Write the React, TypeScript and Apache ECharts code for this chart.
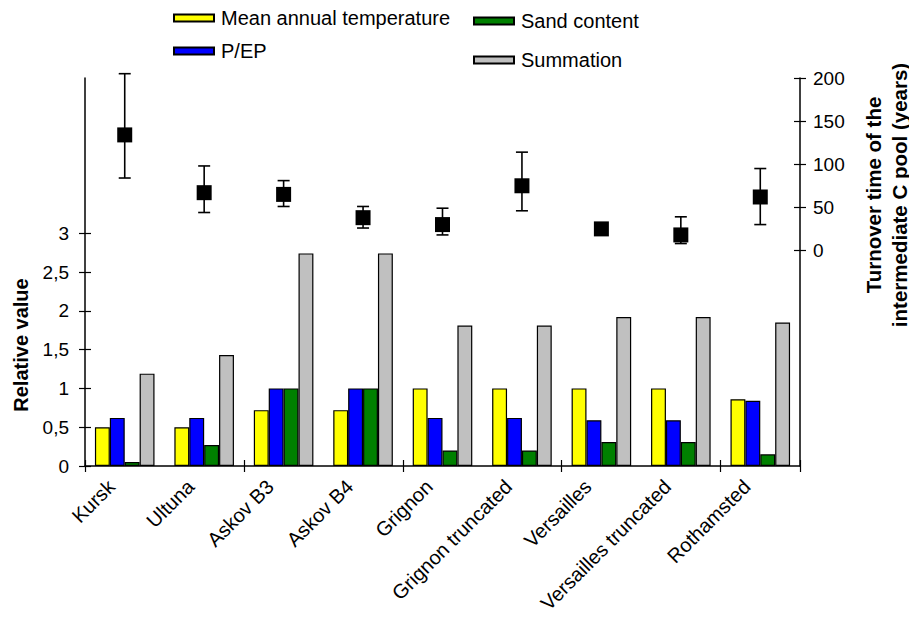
import React, { useEffect, useRef } from "react";
import * as echarts from "echarts";

const categories = [
  "Kursk",
  "Ultuna",
  "Askov B3",
  "Askov B4",
  "Grignon",
  "Grignon truncated",
  "Versailles",
  "Versailles truncated",
  "Rothamsted",
];
const meanTemp = [0.5, 0.5, 0.72, 0.72, 1, 1, 1, 1, 0.86];
const pep = [0.62, 0.62, 1, 1, 0.62, 0.62, 0.59, 0.59, 0.84];
const sand = [0.05, 0.27, 1, 1, 0.2, 0.2, 0.31, 0.31, 0.15];
const summation = [1.19, 1.43, 2.74, 2.74, 1.81, 1.81, 1.92, 1.92, 1.85];
const turnover = [134, 67, 65, 38, 30, 75, 25, 18, 62];
const errLow: (number | null)[] = [84, 44, 51, 26, 18, 46, null, 8, 30];
const errHigh: (number | null)[] = [205, 98, 81, 51, 49, 114, null, 39, 95];

const FONT = "'Liberation Sans', Arial, sans-serif";

export default function App() {
  const ref = useRef<HTMLDivElement>(null);
  useEffect(() => {
    if (!ref.current) return;
    const chart = echarts.init(ref.current, null, { renderer: "svg" });
    const gl = 85, gr = 109, gt = 78, gb = 151;
    const H = 617;
    const plotH = H - gt - gb;
    const leftTop = H - gb - (plotH * 3) / 5;
    const rightZeroY = gt + (plotH * 200) / 450;
    const rightBottom = H - rightZeroY;
    const barStyle = (c: string) => ({ color: c, borderColor: "#000", borderWidth: 1.2 });
    const errData = categories
      .map((_, i) => [i, errLow[i], errHigh[i]])
      .filter((d) => d[1] != null && d[2] != null);
    const axisCol = "#000";
    const tickStyle = { color: axisCol, width: 1.2 };
    const lbl = { color: "#000", fontSize: 19, fontFamily: FONT };
    const gridBase = { left: gl, right: gr, containLabel: false, outerBoundsMode: "none" };
    const hiddenX = (g: number) => ({
      type: "category",
      gridIndex: g,
      data: categories,
      show: false,
      axisLine: { show: false, onZero: false },
    });
    const legendCommon = {
      orient: "vertical",
      padding: 0,
      itemWidth: 40,
      itemHeight: 7,
      icon: "rect",
      textStyle: { fontSize: 20, color: "#000", lineHeight: 20, padding: [0, 0, 0, 2], fontFamily: FONT },
    };
    chart.setOption({
      animation: false,
      textStyle: { fontFamily: FONT },
      grid: [
        { ...gridBase, top: gt, bottom: gb },
        { ...gridBase, top: leftTop, bottom: gb },
        { ...gridBase, top: gt, bottom: rightBottom },
        { ...gridBase, top: gt, bottom: gb },
      ],
      legend: [
        { ...legendCommon, data: ["Mean annual temperature", "P/EP"], left: 173, top: 8, itemGap: 13 },
        { ...legendCommon, data: ["Sand content", "Summation"], left: 473, top: 11, itemGap: 19 },
      ],
      xAxis: [
        {
          type: "category",
          gridIndex: 0,
          data: categories,
          boundaryGap: true,
          axisLine: { show: true, onZero: false, lineStyle: { color: axisCol, width: 1.5 } },
          axisTick: { show: false },
          axisLabel: {
            ...lbl,
            fontSize: 20,
            rotate: 45,
            interval: 0,
            margin: 18,
            verticalAlign: "bottom",
            padding: [0, 9, 0, 0],
          },
          splitLine: { show: false },
        },
        hiddenX(1),
        hiddenX(2),
        {
          type: "category",
          gridIndex: 3,
          data: categories,
          boundaryGap: true,
          position: "bottom",
          offset: -6,
          axisLine: { show: false, onZero: false },
          axisTick: { show: true, length: 12, lineStyle: tickStyle },
          axisLabel: { show: false },
          splitLine: { show: false },
        },
      ],
      yAxis: [
        {
          type: "value",
          gridIndex: 0,
          position: "left",
          min: 0,
          max: 5,
          axisLine: { show: true, onZero: false, lineStyle: { color: axisCol, width: 1.5 } },
          axisTick: { show: false },
          axisLabel: { show: false },
          splitLine: { show: false },
        },
        {
          type: "value",
          gridIndex: 0,
          position: "right",
          min: -250,
          max: 200,
          axisLine: { show: true, onZero: false, lineStyle: { color: axisCol, width: 1.5 } },
          axisTick: { show: false },
          axisLabel: { show: false },
          splitLine: { show: false },
        },
        {
          type: "value",
          gridIndex: 1,
          position: "left",
          offset: -6,
          min: 0,
          max: 3,
          interval: 0.5,
          axisLine: { show: false, onZero: false },
          axisTick: { show: true, length: 12, lineStyle: tickStyle },
          axisLabel: {
            ...lbl,
            margin: 22,
            formatter: (v: number) => String(v).replace(".", ","),
          },
          splitLine: { show: false },
        },
        {
          type: "value",
          gridIndex: 2,
          position: "right",
          offset: -6,
          min: 0,
          max: 200,
          interval: 50,
          axisLine: { show: false, onZero: false },
          axisTick: { show: true, length: 12, lineStyle: tickStyle },
          axisLabel: { ...lbl, margin: 19 },
          splitLine: { show: false },
        },
        { type: "value", gridIndex: 3, min: 0, max: 1, show: false, axisLine: { show: false, onZero: false } },
      ],
      series: [
        { name: "Mean annual temperature", type: "bar", xAxisIndex: 0, yAxisIndex: 0, data: meanTemp, itemStyle: barStyle("#FFFF00"), barGap: "0%", barCategoryGap: "25%" },
        { name: "P/EP", type: "bar", xAxisIndex: 0, yAxisIndex: 0, data: pep, itemStyle: barStyle("#0000FF"), barGap: "0%", barCategoryGap: "25%" },
        { name: "Sand content", type: "bar", xAxisIndex: 0, yAxisIndex: 0, data: sand, itemStyle: barStyle("#008000"), barGap: "0%", barCategoryGap: "25%" },
        { name: "Summation", type: "bar", xAxisIndex: 0, yAxisIndex: 0, data: summation, itemStyle: barStyle("#C0C0C0"), barGap: "0%", barCategoryGap: "25%" },
        {
          name: "Turnover error",
          type: "custom",
          xAxisIndex: 0,
          yAxisIndex: 1,
          z: 3,
          data: errData,
          renderItem: (params: any, api: any) => {
            const i = api.value(0);
            const top = api.coord([i, api.value(2)]);
            const bot = api.coord([i, api.value(1)]);
            const w = 6;
            const st = { stroke: "#000", lineWidth: 1.6 };
            return {
              type: "group",
              children: [
                { type: "line", shape: { x1: top[0], y1: top[1], x2: bot[0], y2: bot[1] }, style: st },
                { type: "line", shape: { x1: top[0] - w, y1: top[1], x2: top[0] + w, y2: top[1] }, style: st },
                { type: "line", shape: { x1: bot[0] - w, y1: bot[1], x2: bot[0] + w, y2: bot[1] }, style: st },
              ],
            };
          },
        },
        {
          name: "Turnover time",
          type: "scatter",
          xAxisIndex: 0,
          yAxisIndex: 1,
          z: 4,
          symbol: "rect",
          symbolSize: 15,
          itemStyle: { color: "#000", opacity: 1 },
          data: turnover,
        },
      ],
      graphic: [
        {
          type: "text",
          x: 21,
          y: 345,
          rotation: Math.PI / 2,
          style: {
            text: "Relative value",
            fill: "#000",
            font: `bold 20px ${FONT}`,
            textAlign: "center",
            textVerticalAlign: "middle",
          },
        },
        {
          type: "text",
          x: 886,
          y: 195,
          rotation: Math.PI / 2,
          style: {
            text: "Turnover time of the\nintermediate C pool (years)",
            fill: "#000",
            font: `bold 20.5px ${FONT}`,
            lineHeight: 26,
            textAlign: "center",
            textVerticalAlign: "middle",
          },
        },
      ],
    });
    return () => chart.dispose();
  }, []);
  return <div ref={ref} style={{ width: 909, height: 617, position: "absolute", left: 0, top: 0 }} />;
}
